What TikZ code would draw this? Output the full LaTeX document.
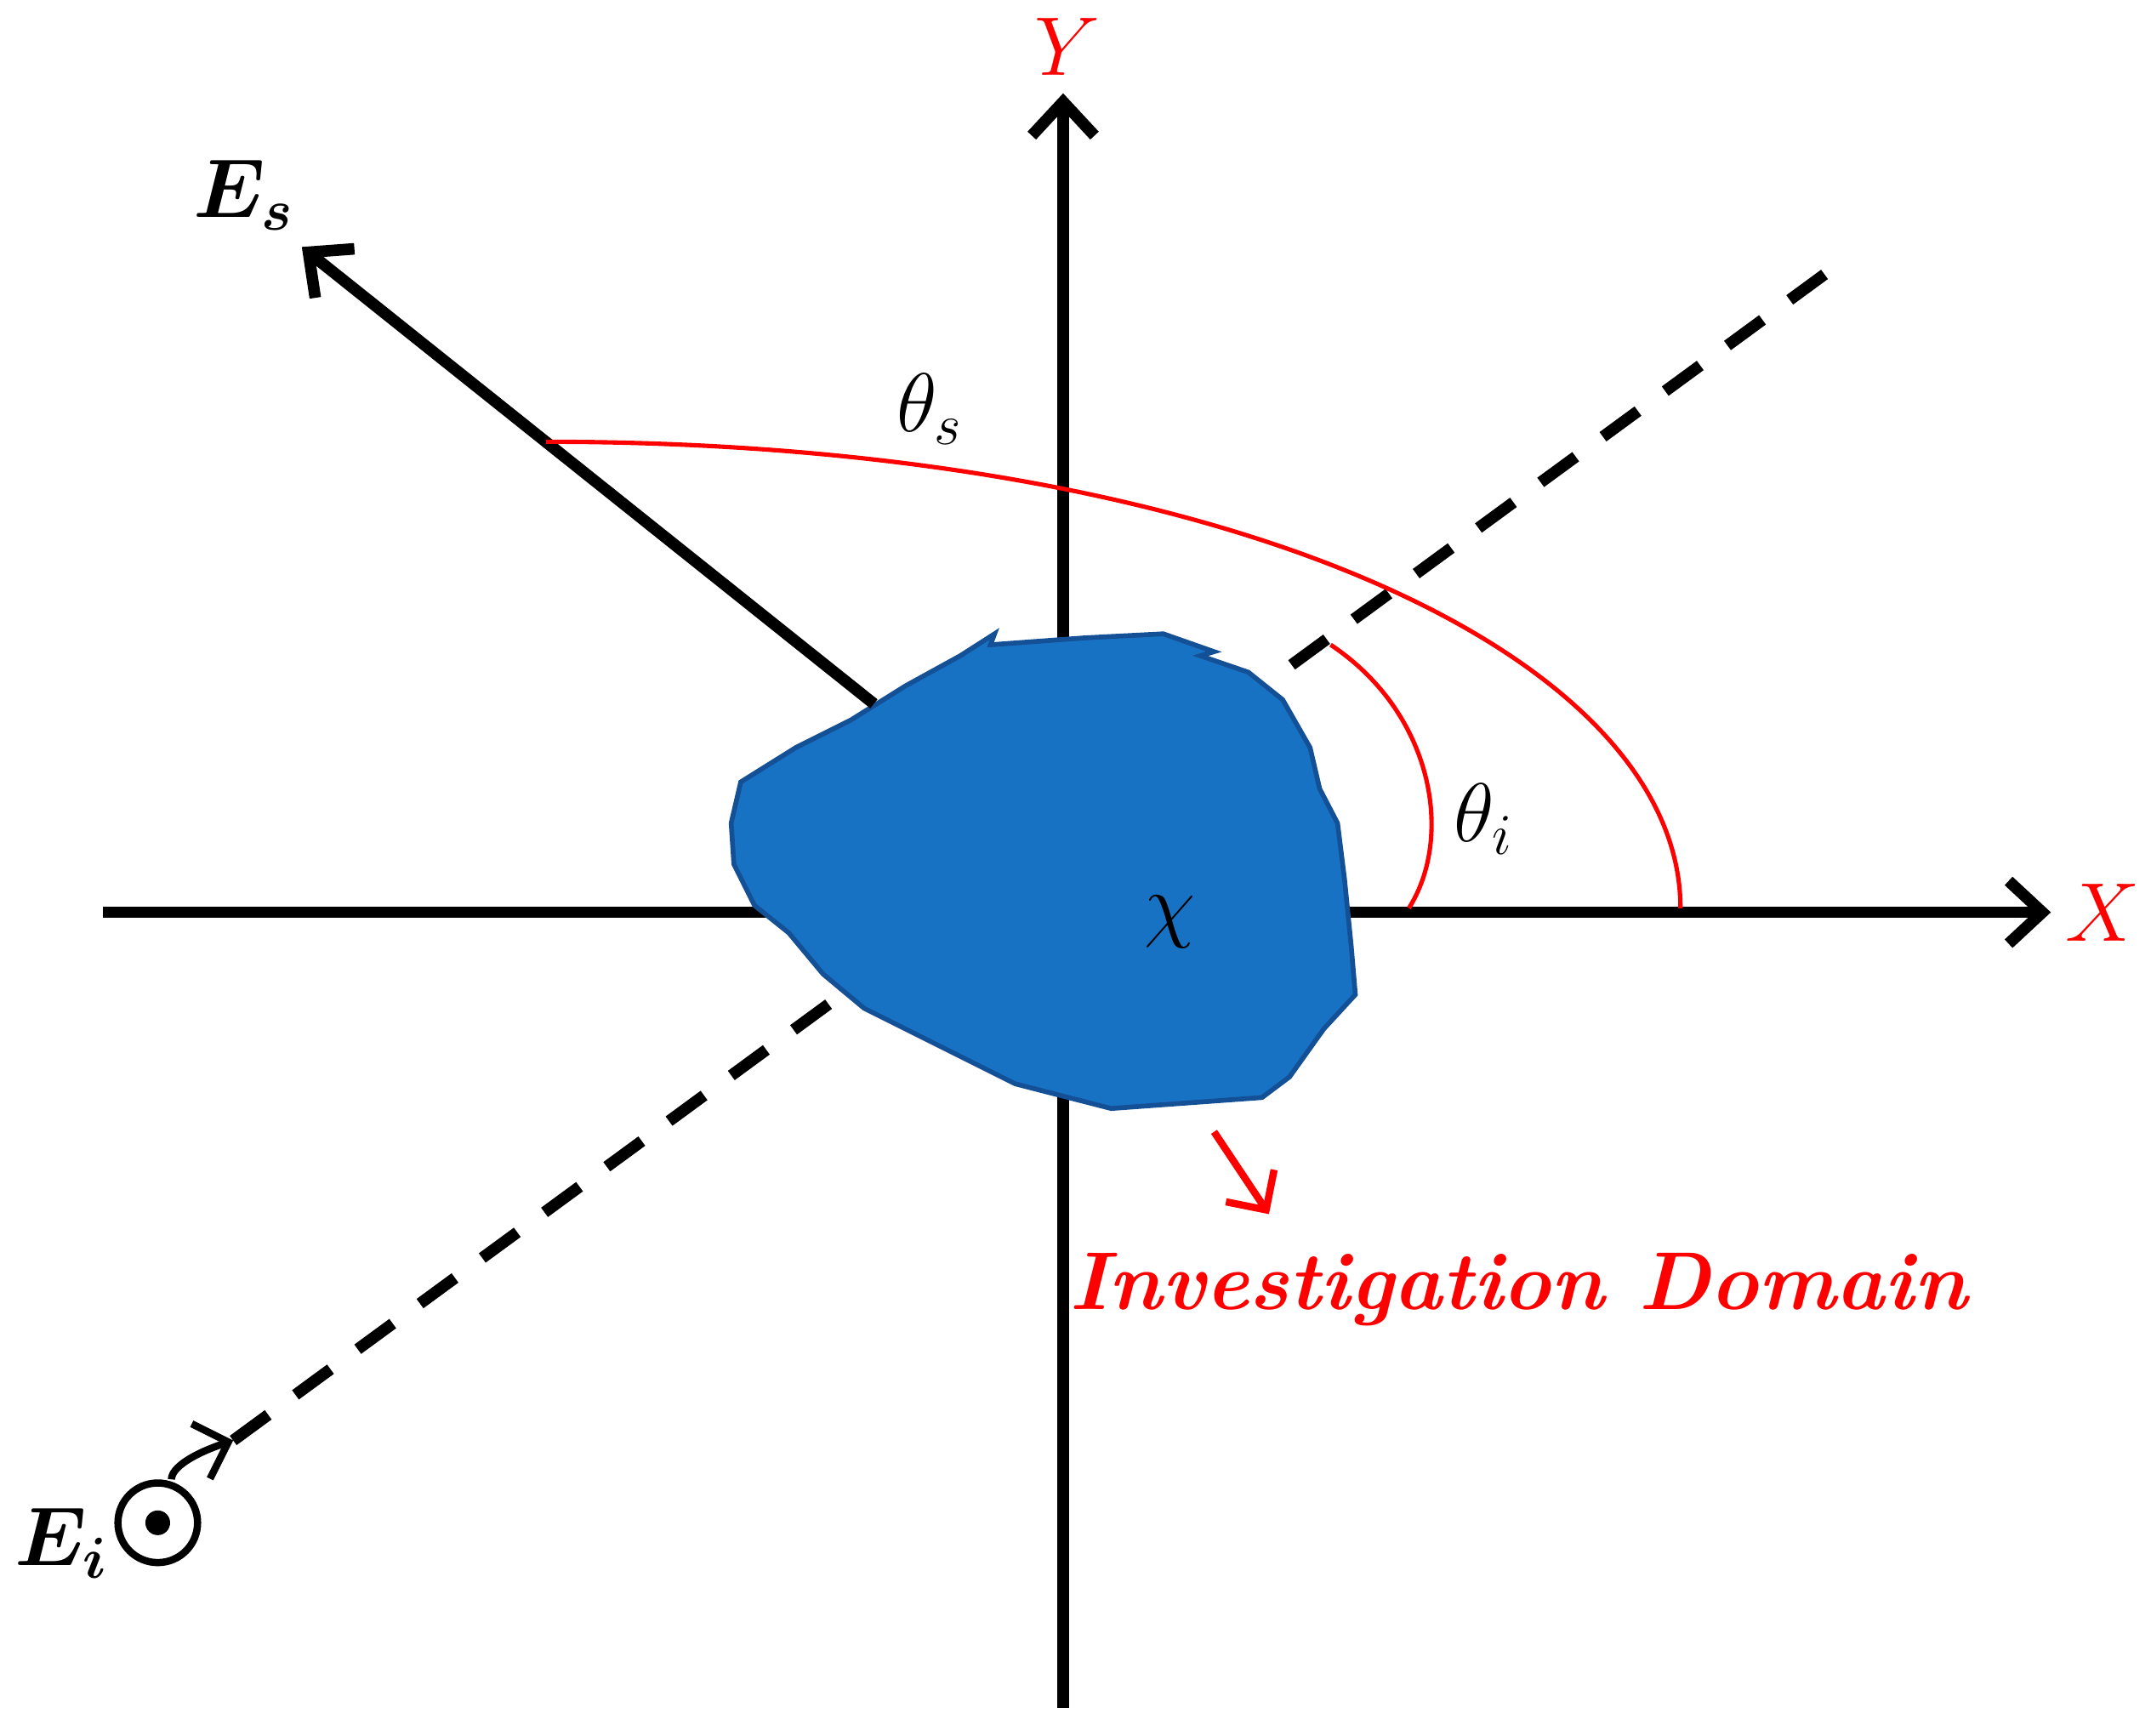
\documentclass[tikz,border=0pt]{standalone}
\usepackage{amsmath,bm}
\usetikzlibrary{arrows.meta}
\definecolor{blob}{RGB}{24,114,196}
\definecolor{blobedge}{RGB}{20,80,150}
\begin{document}
\begin{tikzpicture}[x=0.01cm,y=-0.01cm,
  axis/.style={line width=2.4pt,-{Straight Barb[length=7pt,width=13pt,line width=2.4pt]}},
  dashline/.style={line width=2.4pt,dash pattern=on 9pt off 7pt},
  redarc/.style={red,line width=0.9pt},
  lbl/.style={font=\fontsize{17}{20}\selectfont},
  rlbl/.style={font=\fontsize{17}{20}\selectfont\itshape,text=red}]
\useasboundingbox (0,0) rectangle (1568,1265);
\coordinate (xs) at (75,665); \coordinate (xe) at (1495,665);
\coordinate (ys) at (775,1245); \coordinate (ye) at (775,68);
\coordinate (ds) at (170,1050); \coordinate (de) at (1330,200);
\draw[axis] (xs) -- (xe);
\draw[axis] (ys) -- (ye);
\draw[dashline] (ds) -- (de);
\node[rlbl] (X) at (1533,665) {$X$};
\node[rlbl] (Y) at (778,34) {$Y$};
\filldraw[fill=blob,draw=blobedge,line width=1pt]
 (540,570)--(580,545)--(620,525)--(660,500)--(700,478)--(725,462)--(722,470)--(790,465)--(848,462)--(885,475)--(875,478)--(910,490)--(935,510)--(955,545)--(962,575)--(975,600)--(980,640)--(985,690)--(988,725)--(965,750)--(940,785)--(920,800)--(810,808)--(740,790)--(680,760)--(630,735)--(600,710)--(575,680)--(550,660)--(535,630)--(533,600)--cycle;
\coordinate (es0) at (637,513); \coordinate (es1) at (220,180);
\draw[axis] (es0) -- (es1);
\node[lbl] (Es) at (178,142) {$\bm{E_s}$};
\node[lbl] (chi) at (853,672) {$\chi$};
\coordinate (a1) at (398,322); \coordinate (a2) at (1225,662);
\draw[redarc] (a1) .. controls (900,322) and (1225,480) .. (a2);
\node[lbl] (ths) at (678,298) {$\theta_s$};
\coordinate (b1) at (970,470); \coordinate (b2) at (1027,662);
\draw[redarc] (b1) .. controls (1045,520) and (1060,610) .. (b2);
\node[lbl] (thi) at (1082,597) {$\theta_i$};
\coordinate (r1) at (885,825); \coordinate (r2) at (925,885);
\draw[red,line width=1.5pt,-{Straight Barb[length=6pt,width=12pt,line width=1.5pt]}] (r1) -- (r2);
\node[rlbl] (ID) at (1107,940) {\textbf{Investigation Domain}};
\node[circle,draw,line width=1.5pt,minimum size=0.58cm,inner sep=0] (ci) at (115,1110) {};
\fill (ci.center) circle (0.09cm);
\draw[line width=1.5pt,-{Straight Barb[length=6pt,width=12pt,line width=1.5pt]}] (ci.north) ++(10,0) .. controls (125,1070) and (140,1060) .. (ds);
\node[lbl] (Ei) at (45,1125) {$\bm{E_i}$};
\end{tikzpicture}
\end{document}
